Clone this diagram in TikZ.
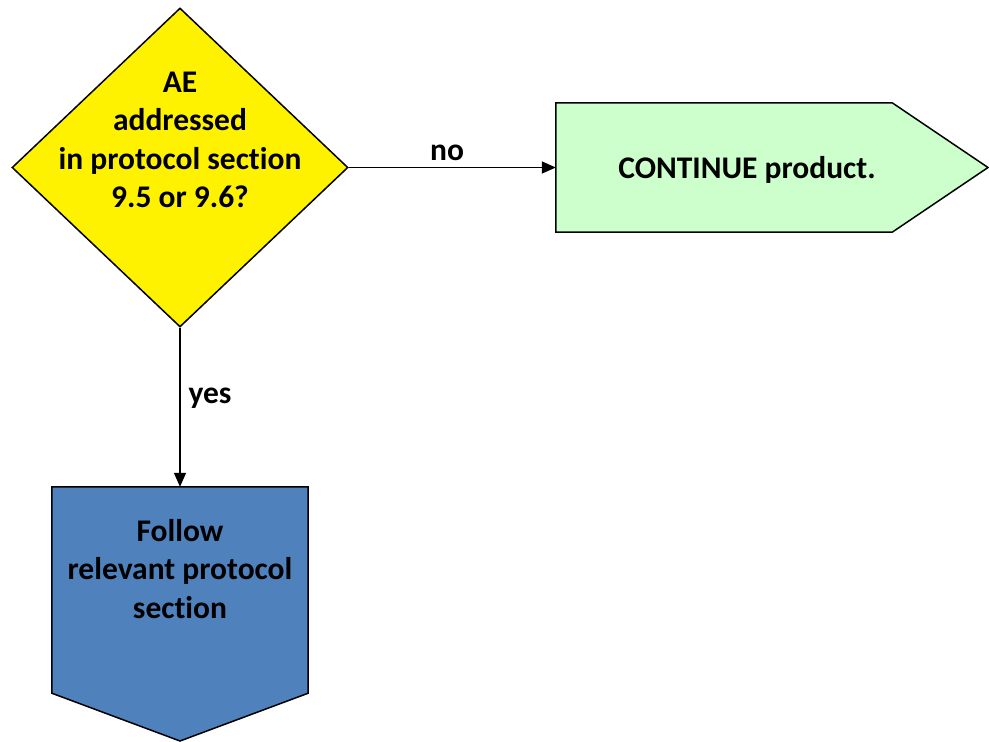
\documentclass[tikz,border=0pt]{standalone}
\usepackage{fontspec}
\setmainfont{Carlito}[Ligatures=NoCommon]
\usetikzlibrary{shapes.geometric,arrows.meta}
\begin{document}
\begin{tikzpicture}[x=1pt,y=-1pt,
  txt/.style={font=\fontsize{31.5pt}{38.5pt}\selectfont\bfseries, align=center, inner sep=0pt},
  outl/.style={draw=black, line width=1.5pt, line join=miter},
  conn/.style={line width=1.5pt, -{Triangle[length=14pt,width=12pt]}},
  lbl/.style={font=\fontsize{31.5pt}{38.5pt}\selectfont\bfseries, inner sep=0pt}]
\useasboundingbox (0,0) rectangle (989,742);
% decision diamond
\node[diamond, outl, fill=yellow, minimum width=336pt, minimum height=319pt, inner sep=0pt] (dec) at (180,167.5) {};
\node[txt] (dectxt) at (180,140) {AE\\addressed\\in protocol section\\9.5 or 9.6?};
% continue shape
\node[minimum width=336pt, minimum height=129pt, inner sep=0pt] (cont) at (724,167.5) {};
\coordinate (conttip) at (988,167.5);
\fill[fill={rgb,255:red,204;green,255;blue,204}] (cont.north west) -- (cont.north east) -- (conttip) -- (cont.south east) -- (cont.south west) -- cycle;
\draw[outl] (cont.north west) -- (cont.north east) -- (conttip) -- (cont.south east) -- (cont.south west) -- cycle;
\node[txt] (conttxt) at (747,170) {CONTINUE product.};
% follow shape
\node[minimum width=256pt, minimum height=206pt, inner sep=0pt] (fol) at (180,590) {};
\coordinate (foltip) at (180,741);
\draw[outl, fill={rgb,255:red,79;green,129;blue,189}] (fol.north west) -- (fol.north east) -- (fol.south east) -- (foltip) -- (fol.south west) -- cycle;
\node[txt] (foltxt) at (180,569) {Follow\\relevant protocol\\section};
% connectors
\draw[conn] (dec.east) -- (cont.west);
\node[lbl] (nolbl) at (447,153) {no};
\draw[conn] (dec.south) -- (fol.north);
\node[lbl] (yeslbl) at (210,398) {yes};
\end{tikzpicture}
\end{document}
